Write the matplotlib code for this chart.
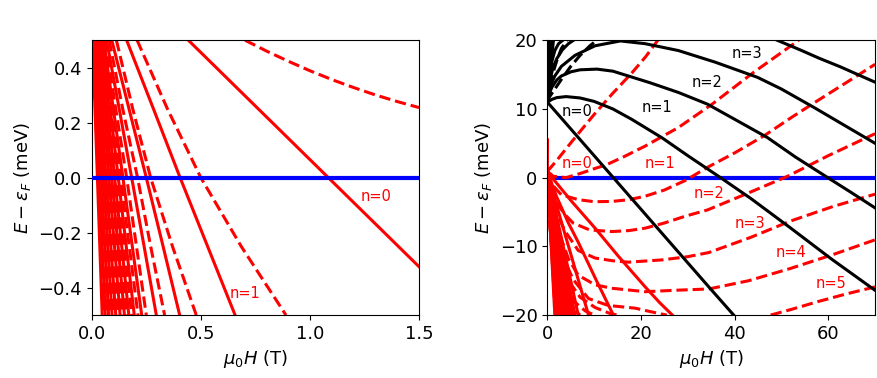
import numpy as np
import matplotlib
matplotlib.use('Agg')
import matplotlib.pyplot as plt

plt.rcParams['font.family'] = 'DejaVu Sans'
plt.rcParams['font.size'] = 13

RED, BLACK, BLUE = '#ff0000', 'black', '#0000ff'
LW = 2.2

# ---------- left panel (low field) ----------
# n=0 levels
l_n0_solid_H = [0.443, 1.5]
l_n0_solid_E = [0.5, -0.324]
l_n0_dash_H = [0.703, 0.8, 0.9, 1.0, 1.107, 1.2, 1.3, 1.4, 1.5]
l_n0_dash_E = [0.5, 0.461, 0.424, 0.389, 0.355, 0.328, 0.301, 0.277, 0.255]

# higher levels: field where the level sits at E = +0.5, +0.25, 0, -0.25, -0.5 meV
l_E_cross = [0.5, 0.25, 0.0, -0.25, -0.5]
l_solid_cross = [(0.160, 0.283, 0.405, 0.531, 0.657),
                 (0.092, 0.171, 0.250, 0.327, 0.403),
                 (0.068, 0.126, 0.183, 0.240, 0.296),
                 (0.055, 0.099, 0.143, 0.186, 0.229)]
l_dash_cross = [(0.208, 0.347, 0.500, 0.685, 0.890),
                (0.113, 0.188, 0.270, 0.370, 0.479),
                (0.080, 0.142, 0.210, 0.270, 0.334),
                (0.062, 0.110, 0.160, 0.205, 0.250)]
# dense fan of high-n levels: field at E=+0.5 and E=-0.5
l_fan_solid_top = [0.048, 0.040, 0.033, 0.027, 0.021, 0.016, 0.011, 0.007, 0.004]
l_fan_solid_bot = [0.195, 0.170, 0.150, 0.130, 0.110, 0.093, 0.077, 0.062, 0.048]
l_fan_dash_top = [0.052, 0.044, 0.036, 0.030, 0.024, 0.018, 0.013, 0.009, 0.005]
l_fan_dash_bot = [0.212, 0.183, 0.160, 0.140, 0.120, 0.100, 0.085, 0.070, 0.055]

# ---------- right panel (high field) ----------
# black levels
k_curves = [
    ([0, 5, 10, 15, 20, 25, 30, 35, 39.8],
     [11, 7.1, 3.2, -0.7, -4.6, -8.5, -12.4, -16.3, -20]),
    ([0, 1, 2, 4, 7, 10, 14, 18, 24.5, 30, 37, 43.4, 52, 60.6, 70],
     [11, 11.4, 11.65, 11.8, 11.6, 11.1, 10.0, 8.5, 5.8, 3.2, 0, -3.0, -7.35, -11.8, -16.4]),
    ([0, 0.5, 1, 2, 3, 5, 7, 10.6, 14, 17.3, 22, 28, 34.2, 40, 47, 53, 59.9, 65, 70],
     [11, 12.4, 13.2, 14.2, 14.8, 15.4, 15.7, 15.8, 15.5, 14.8, 13.8, 12.4, 10.7, 8.5, 5.84, 3.0, 0, -2.2, -4.4]),
    ([0, 0.5, 1, 1.6, 3, 5.9, 10.2, 15.6, 20.9, 28, 35.9, 44.9, 50, 57, 63, 70],
     [11, 12.8, 13.9, 14.8, 16.2, 17.8, 19.2, 19.9, 19.5, 18.5, 16.8, 14.6, 12.9, 10.2, 7.8, 5.0]),
    ([49.1, 54, 58, 62.7, 66, 70],
     [20, 18.6, 17.4, 16.1, 15.1, 13.9]),
    ([0, 0.3, 0.7, 1.2, 2, 3.2, 4.5, 5.6],
     [11, 13, 14.6, 16, 17.3, 18.6, 19.5, 20]),
    ([0, 0.3, 0.6, 1, 1.6, 2.4, 3.3],
     [11, 13.5, 15.3, 17, 18.5, 19.5, 20]),
]
# steep black levels near zero field: field where they reach the top (E=20)
k_fan_top = [0.05, 0.12, 0.2, 0.28, 0.36, 0.45, 0.55, 0.65, 0.75, 0.87, 1.0, 1.15, 1.3]
k_dash_curves = [
    ([0, 0.5, 1.3, 3, 5, 7, 9.1, 10.6],
     [11, 11.8, 12.6, 14.3, 16.2, 17.8, 19.2, 20]),
    ([0, 0.5, 1, 2, 3, 4.2],
     [11, 13, 14.8, 17, 18.8, 20]),
]

# red levels, dashed spin branch, n = 0..9
r_dash_curves = [
    ([0, 2, 6, 10, 14, 18, 21, 23.6],
     [0.9, 2.5, 5.9, 9.2, 12.3, 15.2, 17.6, 20]),
    ([0, 1.3, 4, 7, 10, 12.7, 16.5, 20.9, 28, 35.2, 44, 53.7],
     [0.9, 0.2, 0.0, 0.6, 1.3, 1.9, 3.1, 4.6, 7.3, 10.7, 15.3, 20]),
    ([0, 1, 3, 6.6, 10, 13.8, 17.5, 20.9, 25, 29.5, 34.2, 40, 46.3, 52, 57.7, 64, 70],
     [0.9, -1.0, -2.5, -3.2, -3.5, -3.46, -3.2, -2.7, -1.8, -0.4, 1.5, 3.6, 6.1, 8.7, 11.2, 13.9, 16.5]),
    ([0, 0.8, 2.2, 3.8, 5.5, 9, 13.8, 17.5, 20.9, 25, 29.5, 34.2, 42, 51.3, 60, 70],
     [0.9, -1.8, -3.9, -5.4, -6.6, -7.6, -7.85, -7.7, -7.35, -6.6, -5.6, -4.7, -2.5, 0.2, 3.2, 6.4]),
    ([0, 1, 2, 3.8, 6.6, 10.2, 14, 17.3, 24.5, 30, 34.5, 43.4, 52, 61, 70],
     [0.9, -2.8, -5.2, -7.8, -10.6, -11.7, -12.1, -12.3, -11.97, -11.5, -10.9, -8.7, -6.3, -4.2, -2.4]),
    ([0, 1, 2.5, 4.5, 6.6, 10.2, 13.8, 20.9, 27, 34.5, 43, 52, 61, 70],
     [0.9, -3.5, -8.0, -11.8, -14.2, -15.6, -16.1, -16.6, -16.4, -16.2, -15.0, -13.2, -11.2, -9.05]),
    ([0, 1, 3, 5.5, 8.8, 13, 18.8, 22, 25.5, np.nan, 47.7, 52, 58, 64, 70],
     [0.9, -4.5, -11, -14.8, -17.6, -18.6, -19.0, -19.5, -20, np.nan, -20, -19.2, -18.0, -16.9, -15.9]),
    ([0, 0.8, 2, 4, 7, 10.2, 13.5, 15],
     [0.9, -5, -10.5, -14.5, -17.4, -18.9, -19.8, -20]),
    ([0, 0.6, 1.5, 3, 5.5, 8.1, 10],
     [0.9, -6, -11, -15, -17.9, -19.4, -20]),
    ([0, 0.5, 1.3, 2.6, 4.5, 7],
     [0.9, -7, -12.5, -16, -18.5, -20]),
]
# red solid spin branch, n = 0, 1
r_solid_curves = [
    ([0, 5, 10.2, 15, 20.9, 24, 26.7],
     [0.85, -3.3, -7.35, -11.3, -15.9, -18.2, -20]),
    ([0, 2, 4.5, 6.6, 10.5, 14.1],
     [0.85, -2.8, -6.6, -9.4, -15.0, -20]),
]
# dense red fan: field where each level reaches the bottom (E=-20)
r_fan_solid_bot = [1.6, 1.9, 2.2, 2.5, 2.8, 3.1, 3.4, 3.8, 4.2, 4.6, 5.0, 5.4, 5.9, 6.6, 8.8]
r_fan_dash_bot = [1.7, 2.0, 2.3, 2.6, 2.9, 3.2, 3.6, 4.0, 4.4, 4.8, 5.2, 5.6]
r_fan_start = [0, 0.6]
r_steep_up = ([0, 0.03], [0.85, 5.5])

labels_left = [('n=0', 1.302, -0.067), ('n=1', 0.703, -0.422)]
labels_right_black = [('n=0', 6.4, 9.6), ('n=1', 23.5, 10.2),
                      ('n=2', 34.2, 13.8), ('n=3', 42.6, 18.0)]
labels_right_red = [('n=0', 6.4, 2.1), ('n=1', 24.1, 2.1), ('n=2', 34.5, -2.3),
                    ('n=3', 43.3, -6.7), ('n=4', 52.1, -10.85), ('n=5', 60.5, -15.4)]

fig = plt.figure(figsize=(8.77, 3.78), dpi=100)
ax1 = fig.add_axes([0.1046, 0.1665, 0.3732, 0.727])
ax2 = fig.add_axes([0.6241, 0.1665, 0.3737, 0.727])

# left
for top, bot in zip(l_fan_solid_top, l_fan_solid_bot):
    ax1.plot([top, bot], [0.5, -0.5], '-', color=RED, lw=LW)
for top, bot in zip(l_fan_dash_top, l_fan_dash_bot):
    ax1.plot([top, bot], [0.5, -0.5], '--', color=RED, lw=LW)
for row in l_solid_cross:
    ax1.plot(row, l_E_cross, '-', color=RED, lw=LW)
for row in l_dash_cross:
    ax1.plot(row, l_E_cross, '--', color=RED, lw=LW)
ax1.plot(l_n0_solid_H, l_n0_solid_E, '-', color=RED, lw=LW)
ax1.plot(l_n0_dash_H, l_n0_dash_E, '--', color=RED, lw=LW)
ax1.axhline(0, color=BLUE, lw=3, zorder=3)
for txt, x, y in labels_left:
    ax1.text(x, y, txt, color=RED, fontsize=10.5, ha='center', va='center')
ax1.set_xlim(0, 1.5)
ax1.set_ylim(-0.5, 0.5)
ax1.set_xticks([0.0, 0.5, 1.0, 1.5])
ax1.set_yticks([-0.4, -0.2, 0.0, 0.2, 0.4])
ax1.set_xlabel(r'$\mu_0H$ (T)')
ax1.set_ylabel(r'$E-\varepsilon_F$ (meV)')

# right
for bot in r_fan_solid_bot:
    ax2.plot([r_fan_start[0], bot], [r_fan_start[1], -20], '-', color=RED, lw=LW)
for bot in r_fan_dash_bot:
    ax2.plot([r_fan_start[0], bot], [r_fan_start[1], -20], '--', color=RED, lw=LW)
for H, E in r_solid_curves:
    ax2.plot(H, E, '-', color=RED, lw=LW)
for H, E in r_dash_curves:
    ax2.plot(H, E, '--', color=RED, lw=LW)
ax2.plot(*r_steep_up, '-', color=RED, lw=LW)
for top in k_fan_top:
    ax2.plot([0, top], [11, 20], '-', color=BLACK, lw=LW)
for H, E in k_dash_curves:
    ax2.plot(H, E, '--', color=BLACK, lw=LW)
for H, E in k_curves:
    ax2.plot(H, E, '-', color=BLACK, lw=LW)
ax2.axhline(0, color=BLUE, lw=3, zorder=1.5)
for txt, x, y in labels_right_black:
    ax2.text(x, y, txt, color=BLACK, fontsize=10.5, ha='center', va='center')
for txt, x, y in labels_right_red:
    ax2.text(x, y, txt, color=RED, fontsize=10.5, ha='center', va='center')
ax2.set_xlim(0, 70)
ax2.set_ylim(-20, 20)
ax2.set_xticks([0, 20, 40, 60])
ax2.set_yticks([-20, -10, 0, 10, 20])
ax2.set_xlabel(r'$\mu_0H$ (T)')
ax2.set_ylabel(r'$E-\varepsilon_F$ (meV)')

fig.savefig('out.png', dpi=100)
